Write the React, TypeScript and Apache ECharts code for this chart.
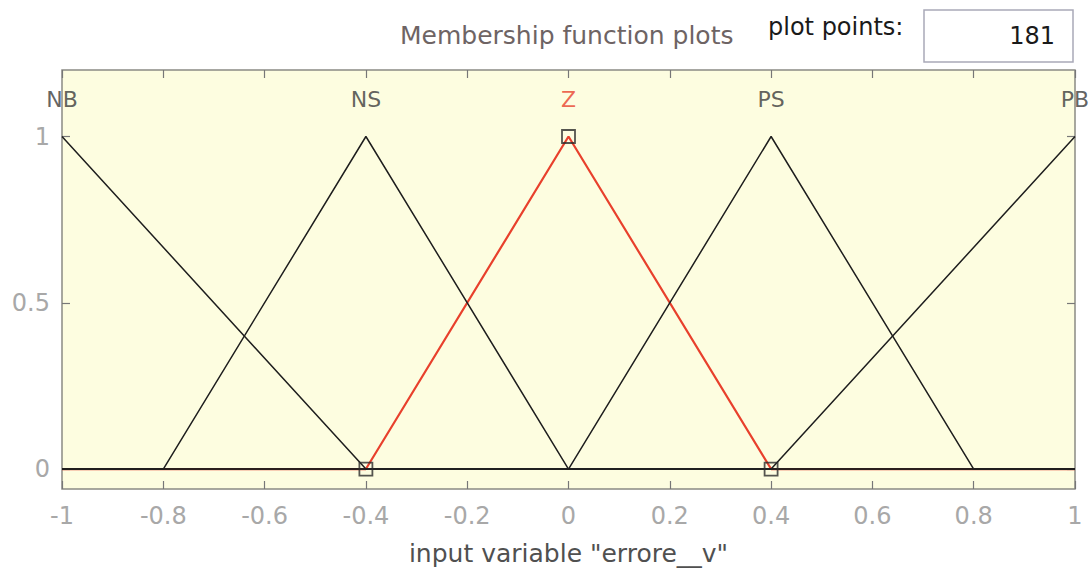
import React, { useEffect, useRef } from "react";
import * as echarts from "echarts";

// Triangular membership functions of the input variable "errore__v" (a, b, c vertices)
const mfNames = ["NB", "NS", "Z", "PS", "PB"];
const mfA = [-1.6, -0.8, -0.4, 0.0, 0.4];
const mfB = [-1.0, -0.4, 0.0, 0.4, 1.0];
const mfC = [-0.4, 0.0, 0.4, 0.8, 1.6];
const selectedIndex = 2; // "Z" is highlighted

const xRange = [-1, 1];
const xTicks = [-1, -0.8, -0.6, -0.4, -0.2, 0, 0.2, 0.4, 0.6, 0.8, 1];
const yTicks = [0, 0.5, 1];
const plotPoints = 181;

const GRID = { left: 62, top: 70, width: 1013, height: 419 };
const Y_MIN = -0.06;
const Y_MAX = 1.2;
const LABEL_Y = 1.11;

// Vertex polyline of a triangle clipped to the universe of discourse
function triangleVertices(a: number, b: number, c: number): number[][] {
  const [lo, hi] = xRange;
  const val = (x: number) => {
    if (x <= a || x >= c) return x === b ? 1 : 0;
    if (x <= b) return (x - a) / (b - a);
    return (c - x) / (c - b);
  };
  const xs = [lo, a, b, c, hi].filter((x) => x >= lo && x <= hi);
  const uniq = Array.from(new Set(xs)).sort((p, q) => p - q);
  return uniq.map((x) => [x, val(x)]);
}

export default function App() {
  const ref = useRef<HTMLDivElement>(null);

  useEffect(() => {
    if (!ref.current) return;
    const chart = echarts.init(ref.current, undefined, { renderer: "svg" });

    const font = "'DejaVu Sans', Verdana, sans-serif";
    const black = "#1e1e1e";
    const red = "#e8402c";

    const lineSeries: any[] = mfNames.map((name, i) => ({
      type: "line",
      name,
      data: triangleVertices(mfA[i], mfB[i], mfC[i]),
      symbol: "none",
      z: i === selectedIndex ? 2 : 3,
      lineStyle: {
        color: i === selectedIndex ? red : black,
        width: i === selectedIndex ? 2.2 : 1.5,
      },
    }));

    const sel = selectedIndex;
    const squares = {
      type: "scatter",
      data: [
        [mfA[sel], 0],
        [mfB[sel], 1],
        [mfC[sel], 0],
      ],
      symbol: "rect",
      symbolSize: 13,
      z: 4,
      itemStyle: { color: "rgba(0,0,0,0)", borderColor: "#2a2a2a", borderWidth: 1.8 },
    };

    const nameLabels = {
      type: "scatter",
      data: mfNames.map((n, i) => ({
        value: [mfB[i], LABEL_Y],
        label: {
          show: true,
          formatter: n,
          position: "inside",
          color: i === selectedIndex ? red : "#3a3a3a",
          fontSize: 22,
          fontFamily: font,
        },
      })),
      symbolSize: 0,
      z: 5,
      silent: true,
    };

    const tickCommon = {
      show: true,
      inside: true,
      length: 8,
      lineStyle: { color: "#777", width: 1.2 },
    };
    const noLine = { show: false, onZero: false };

    chart.setOption({
      animation: false,
      backgroundColor: "#ffffff",
      grid: {
        ...GRID,
        show: true,
        backgroundColor: "#fdfde0",
        borderColor: "#8a8a84",
        borderWidth: 1.5,
      },
      xAxis: [
        {
          type: "value",
          min: xRange[0],
          max: xRange[1],
          interval: 0.2,
          axisLine: noLine,
          axisTick: { ...tickCommon, customValues: xTicks },
          axisLabel: {
            customValues: xTicks,
            color: "#a8a8a8",
            fontSize: 24,
            fontFamily: font,
            margin: 15,
          },
          splitLine: { show: false },
          name: 'input variable "errore__v"',
          nameLocation: "middle",
          nameGap: 52,
          nameTextStyle: { color: "#505050", fontSize: 25, fontFamily: font },
        },
        {
          type: "value",
          position: "top",
          min: xRange[0],
          max: xRange[1],
          interval: 0.2,
          axisLine: noLine,
          axisTick: { ...tickCommon, customValues: xTicks },
          axisLabel: { show: false },
          splitLine: { show: false },
        },
      ],
      yAxis: [
        {
          type: "value",
          position: "left",
          min: Y_MIN,
          max: Y_MAX,
          axisLine: noLine,
          axisTick: { ...tickCommon, customValues: yTicks },
          axisLabel: {
            customValues: yTicks,
            formatter: (v: number) => String(v),
            color: "#a8a8a8",
            fontSize: 24,
            fontFamily: font,
            margin: 12,
          },
          splitLine: { show: false },
        },
        {
          type: "value",
          position: "right",
          min: Y_MIN,
          max: Y_MAX,
          axisLine: noLine,
          axisTick: { ...tickCommon, customValues: yTicks },
          axisLabel: { show: false },
          splitLine: { show: false },
        },
      ],
      graphic: [
        {
          type: "text",
          left: 400,
          top: 23,
          style: {
            text: "Membership function plots",
            fill: "#6e6464",
            fontSize: 25,
            fontFamily: font,
          },
        },
        {
          type: "text",
          left: 768,
          top: 15,
          style: {
            text: "plot points:",
            fill: "#1a1a1a",
            fontSize: 24,
            fontFamily: font,
          },
        },
        {
          type: "rect",
          shape: { x: 924, y: 10, width: 149, height: 52 },
          style: { fill: "#ffffff", stroke: "#a9a9b8", lineWidth: 1.5 },
        },
        {
          type: "text",
          x: 1055,
          y: 36,
          style: {
            text: String(plotPoints),
            fill: "#1a1a1a",
            fontSize: 24,
            fontFamily: font,
            align: "right",
            verticalAlign: "middle",
          },
        },
      ],
      series: [...lineSeries, squares, nameLabels],
    });

    return () => chart.dispose();
  }, []);

  return (
    <div
      ref={ref}
      style={{ position: "fixed", left: 0, top: 0, width: 1092, height: 573 }}
    />
  );
}
